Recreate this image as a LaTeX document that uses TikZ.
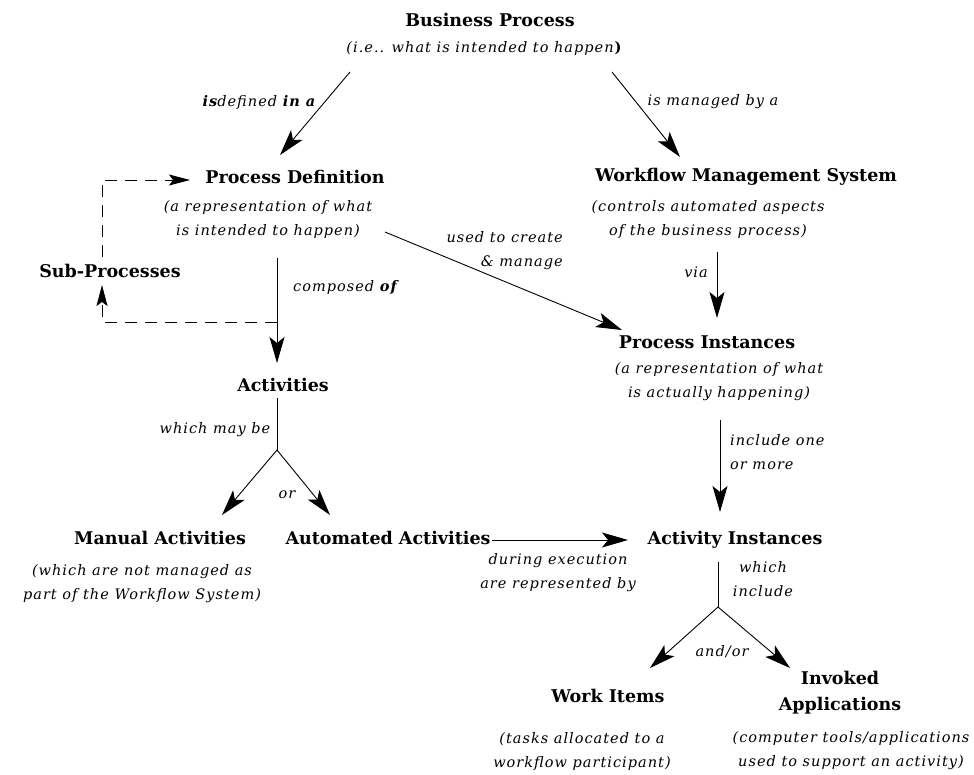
\documentclass[tikz,border=0pt]{standalone}
\usepackage{fontspec}
\setmainfont{DejaVu Serif}
\newfontfamily\notefont[LetterSpace=7]{DejaVu Serif}
\usetikzlibrary{arrows.meta}
\begin{document}
\begin{tikzpicture}[x=1pt,y=-1pt,
  title/.style={font=\bfseries\fontsize{17.5}{26}\selectfont, inner sep=0pt, align=center},
  note/.style={font=\notefont\itshape\fontsize{14.5}{24}\selectfont, inner sep=0pt, align=center},
  wire/.style={line width=0.9pt},
  link/.style={wire, -{Stealth[length=26pt,width=15pt,inset=6pt]}},
  dlink/.style={wire, dash pattern=on 12pt off 8pt, -{Stealth[length=21pt,width=11pt,inset=4pt]}},
]
\useasboundingbox (0,0) rectangle (974,774);

% ---- concepts ----
\node[title] (bp)   at (490,20)  {Business Process};
\node[note]  (bpn)  at (484,48)  {(i.e.. what is intended to happen\textup{\bfseries )}};
\node[title] (pd)   at (295,177) {Process Definition};
\node[note]  (pdn)  at (268,219) {(a representation of what\\is intended to happen)};
\node[title] (wms)  at (746,177) {Workflow Management System};
\node[note]  (wmsn) at (708,219) {(controls automated aspects\\of the business process)};
\node[title] (sub)  at (110,271) {Sub-Processes};
\node[title] (act)  at (283,385) {Activities};
\node[title] (man)  at (160,538) {Manual Activities};
\node[note]  (mann) at (142,584) {(which are not managed as\\part of the Workflow System)};
\node[title] (auto) at (388,538) {Automated Activities};
\node[title] (pi)   at (707,342) {Process Instances};
\node[note]  (pin)  at (719,382) {(a representation of what\\is actually happening)};
\node[title] (ai)   at (735,540) {Activity Instances};
\node[title] (wi)   at (608,696) {Work Items};
\node[note]  (win)  at (582,751) {(tasks allocated to a\\workflow participant)};
\node[title] (inv)  at (840,693) {Invoked\\Applications};
\node[note]  (invn) at (851,751) {(computer tools/applications\\used to support an activity)};

% ---- connector labels ----
\node[note] (l1) at (259,102) {\textbf{is}defined \textbf{in a}};
\node[note] (l2) at (713,102) {is managed by a};
\node[note, align=right, anchor=east] (l3) at (563,251) {used to create\\\& manage};
\node[note] (l4) at (696,272) {via};
\node[note] (l5) at (345,287) {composed \textbf{of}};
\node[note] (l6) at (215,430) {which may be};
\node[note] (l7) at (287,495) {or};
\node[note] (l8) at (558,573) {during execution\\are represented by};
\node[note, align=left, anchor=west] (l9) at (730,452) {include one\\or more};
\node[note] (l10) at (763,579) {which\\include};
\node[note] (l11) at (722,652) {and/or};

% ---- connector end points ----
\coordinate (bpL)  at (350,72);   \coordinate (pdT)  at (280,155);
\coordinate (bpR)  at (612,72);   \coordinate (wmsT) at (680,157);
\coordinate (pdR)  at (385,232);  \coordinate (piL)  at (622,330);
\coordinate (wmsB) at (717,252);  \coordinate (piT)  at (717,318);
\coordinate (pdB)  at (277,258);  \coordinate (actT) at (277,363);
\coordinate (split) at (277,322);
\coordinate (subC) at (102,322);  \coordinate (subB) at (102,285);
\coordinate (subT) at (102,257);  \coordinate (subK) at (102,180);
\coordinate (pdL)  at (190,180);
\coordinate (actB) at (277,398);  \coordinate (actJ) at (277,450);
\coordinate (manT) at (222,515);  \coordinate (autoT) at (330,515);
\coordinate (autoR) at (492,540); \coordinate (aiL)  at (628,540);
\coordinate (piB)  at (720,420);  \coordinate (aiT)  at (720,512);
\coordinate (aiB)  at (718,562);  \coordinate (aiJ)  at (718,607);
\coordinate (wiT)  at (650,668);  \coordinate (invT) at (790,668);

% ---- connectors ----
\draw[link] (bpL) -- (pdT);
\draw[link] (bpR) -- (wmsT);
\draw[link] (pdR) -- (piL);
\draw[link] (wmsB) -- (piT);
\draw[link] (pdB) -- (actT);
\draw[dlink] (split) -- (subC) -- (subB);
\draw[dlink] (subT) -- (subK) -- (pdL);
\draw[wire] (actB) -- (actJ);
\draw[link] (actJ) -- (manT);
\draw[link] (actJ) -- (autoT);
\draw[link] (autoR) -- (aiL);
\draw[link] (piB) -- (aiT);
\draw[wire] (aiB) -- (aiJ);
\draw[link] (aiJ) -- (wiT);
\draw[link] (aiJ) -- (invT);
\end{tikzpicture}
\end{document}
